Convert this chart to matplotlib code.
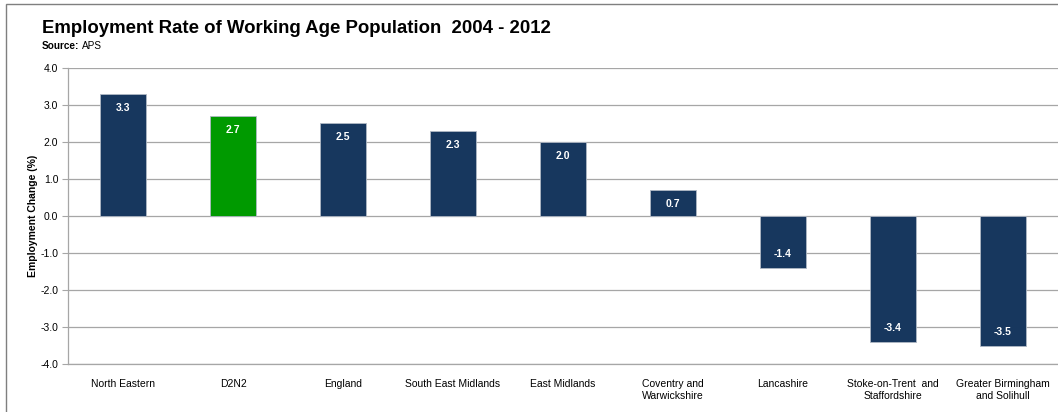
import matplotlib.pyplot as plt
from matplotlib.patches import Rectangle

plt.rcParams['font.family'] = ['Liberation Sans', 'DejaVu Sans']

regions = ['North Eastern', 'D2N2', 'England', 'South East Midlands', 'East Midlands',
           'Coventry and\nWarwickshire', 'Lancashire', 'Stoke-on-Trent  and\nStaffordshire',
           'Greater Birmingham\nand Solihull']
change = [3.3, 2.7, 2.5, 2.3, 2.0, 0.7, -1.4, -3.4, -3.5]
highlight = 'D2N2'

navy = '#17375E'
green = '#009A00'
grid_col = '#A6A6A6'

fig = plt.figure(figsize=(10.58, 4.12), dpi=100)
ax = fig.add_axes([0.0643, 0.1165, 0.9357, 0.7185])

x = list(range(len(regions)))
colors = [green if r == highlight else navy for r in regions]
bars = ax.bar(x, change, width=0.41, color=colors, edgecolor='#B0B8C4', linewidth=0.6, zorder=3)

for xi, v in zip(x, change):
    if v >= 0:
        ax.text(xi, v - 0.24, f'{v:.1f}', ha='center', va='top', color='white',
                fontsize=7.5, fontweight='bold', zorder=4)
    else:
        ax.text(xi, v + 0.24, f'{v:.1f}', ha='center', va='bottom', color='white',
                fontsize=7.5, fontweight='bold', zorder=4)

ax.set_xlim(-0.5, len(regions) - 0.5)
ax.set_ylim(-4, 4)
ax.set_yticks([i for i in range(-4, 5)])
ax.set_yticklabels([f'{i:.1f}' for i in range(-4, 5)], fontsize=7.5)
ax.set_xticks(x)
ax.set_xticklabels(regions, fontsize=7.5, linespacing=1.25)
ax.tick_params(axis='x', length=0, pad=11)
ax.tick_params(axis='y', length=4, width=0.8, color=grid_col, pad=3)
ax.yaxis.grid(True, color=grid_col, linewidth=0.9, zorder=0)
ax.set_axisbelow(True)
for s in ['top', 'right']:
    ax.spines[s].set_visible(False)
for s in ['left', 'bottom']:
    ax.spines[s].set_color(grid_col)
    ax.spines[s].set_linewidth(0.9)

ax.set_ylabel('Employment Change (%)', fontsize=7.5, fontweight='bold', labelpad=2)

fig.text(0.0397, 0.932, 'Employment Rate of Working Age Population  2004 - 2012',
         fontsize=13.4, fontweight='bold', va='center')
fig.text(0.0397, 0.888, 'Source:', fontsize=7.2, fontweight='bold', va='center')
fig.text(0.0775, 0.888, 'APS', fontsize=7.2, va='center')

# outer chart frame
fig.patches.append(Rectangle((6 / 1058, -0.1), 1.2, 1.1 - 4 / 412, transform=fig.transFigure,
                             fill=False, edgecolor='#7F7F7F', linewidth=1.0))

fig.savefig('out.png', dpi=100)
